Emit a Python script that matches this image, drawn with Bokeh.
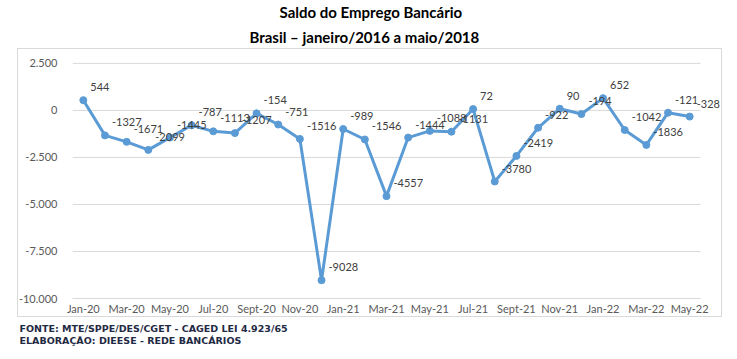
from bokeh.plotting import figure
from bokeh.models import ColumnDataSource, LabelSet, Title, FixedTicker
from bokeh.core.properties import value
from bokeh.embed import file_html
from bokeh.resources import INLINE

# ---- data ----
months = ["Jan-20", "Feb-20", "Mar-20", "Apr-20", "May-20", "Jun-20", "Jul-20", "Aug-20",
          "Sep-20", "Oct-20", "Nov-20", "Dec-20", "Jan-21", "Feb-21", "Mar-21", "Apr-21",
          "May-21", "Jun-21", "Jul-21", "Aug-21", "Sep-21", "Oct-21", "Nov-21", "Dec-21",
          "Jan-22", "Feb-22", "Mar-22", "Apr-22", "May-22"]
saldo = [544, -1327, -1671, -2099, -1445, -787, -1113, -1207, -154, -751, -1516, -9028,
         -989, -1546, -4557, -1444, -1088, -1131, 72, -3780, -2419, -922, 90, -194,
         652, -1042, -1836, -121, -328]
x_tick_labels = ["Jan-20", "Mar-20", "May-20", "Jul-20", "Sept-20", "Nov-20", "Jan-21",
                 "Mar-21", "May-21", "Jul-21", "Sept-21", "Nov-21", "Jan-22", "Mar-22", "May-22"]
y_ticks = [2500, 0, -2500, -5000, -7500, -10000]
y_tick_labels = ["2.500", "0", "-2.500", "-5.000", "-7.500", "-10.000"]

title1 = "Saldo do Emprego Bancário"
title2 = "Brasil – janeiro/2016 a maio/2018"
foot1 = "FONTE: MTE/SPPE/DES/CGET - CAGED LEI 4.923/65"
foot2 = "ELABORAÇÃO: DIEESE - REDE BANCÁRIOS"

FONT = "Lato"
BLUE = "#5B9BD5"

# ---- layout geometry (pixels) ----
W, H = 737, 359
AREA_L, AREA_R = 72, 700      # plotting area (gridlines) left/right
AREA_T, AREA_B = 61, 298      # top (2.500) / bottom (-10.000) gridlines
FRAME_T, FRAME_R = 48, 720    # frame extends to the chart box so labels are not clipped

n = len(months)
px_per_cat = (AREA_R - AREA_L) / n
px_per_unit = (AREA_B - AREA_T) / (y_ticks[0] - y_ticks[-1])
x_end = n - 0.5 + (FRAME_R - AREA_R) / px_per_cat
y_end = y_ticks[0] + (AREA_T - FRAME_T) / px_per_unit

idx = list(range(n))
src = ColumnDataSource(dict(x=idx, y=saldo, lab=[str(v) for v in saldo]))

border_css = """
:host::after {
  content: "";
  position: absolute;
  left: 17px; top: 48px; width: 703px; height: 267px;
  border: 1px solid #d9d9d9;
  pointer-events: none;
}
:host { position: relative; }
"""

p = figure(width=W, height=H, output_backend="svg", toolbar_location=None,
           x_range=(-0.5, x_end), y_range=(y_ticks[-1], y_end),
           min_border_left=AREA_L, min_border_right=W - FRAME_R,
           min_border_top=FRAME_T, min_border_bottom=H - AREA_B,
           stylesheets=[border_css])
p.outline_line_color = None
p.background_fill_color = "white"
p.border_fill_color = "white"

# titles: the plot's own title sits outermost, added titles sit nearer the frame
p.title.text = title1
p.title.align = "left"
p.title.vertical_align = "middle"
p.title.offset = 207
p.title.standoff = 3
p.title.text_font = FONT
p.title.text_font_size = "15px"
p.title.text_font_style = "bold"
p.title.text_color = "#000000"
p.add_layout(Title(text=title2, align="left", vertical_align="middle", offset=177, standoff=7,
                   text_font=FONT, text_font_size="15px", text_font_style="bold",
                   text_color="#000000"),
             "above")

# axes
p.yaxis.ticker = FixedTicker(ticks=y_ticks)
p.yaxis.major_label_overrides = {t: l for t, l in zip(y_ticks, y_tick_labels)}
p.yaxis.axis_line_color = None
p.yaxis.major_tick_line_color = None
p.yaxis.minor_tick_line_color = None
p.yaxis.major_tick_in = 0
p.yaxis.major_tick_out = 0
p.yaxis.minor_tick_in = 0
p.yaxis.minor_tick_out = 0
p.yaxis.major_label_standoff = 15
p.yaxis.major_label_text_font = FONT
p.yaxis.major_label_text_font_size = "11px"
p.yaxis.major_label_text_color = "#595959"

xt = idx[::2]
p.xaxis.ticker = FixedTicker(ticks=xt)
p.xaxis.major_label_overrides = {t: l for t, l in zip(xt, x_tick_labels)}
p.xaxis.bounds = (-0.5, n - 0.5)
p.xaxis.axis_line_color = "#d9d9d9"
p.xaxis.major_tick_line_color = None
p.xaxis.minor_tick_line_color = None
p.xaxis.major_tick_in = 0
p.xaxis.major_tick_out = 0
p.xaxis.minor_tick_in = 0
p.xaxis.minor_tick_out = 0
p.xaxis.major_label_standoff = 3
p.xaxis.major_label_text_font = FONT
p.xaxis.major_label_text_font_size = "11px"
p.xaxis.major_label_text_color = "#595959"

# horizontal gridlines limited to the plotting area
p.xgrid.visible = False
p.ygrid.visible = False
p.segment(x0=[-0.5] * len(y_ticks), x1=[n - 0.5] * len(y_ticks), y0=y_ticks, y1=y_ticks,
          line_color="#d9d9d9", line_width=1)

# footer (two lines in one title)
p.add_layout(Title(text=foot1 + "\n" + foot2, align="left", offset=-53, standoff=7,
                   text_font="DejaVu Sans", text_font_size="9.5px", text_line_height=1.05,
                   text_font_style="bold", text_color="#1f2a44"), "below")

# series
p.line("x", "y", source=src, line_color=BLUE, line_width=3)
p.scatter("x", "y", source=src, size=7, fill_color=BLUE, line_color=BLUE)

labels = LabelSet(x="x", y="y", text="lab", source=src, x_offset=7, y_offset=13,
                  text_align="left", text_baseline="middle", text_font=value(FONT),
                  text_font_size=value("11px"), text_color="#404040")
p.add_layout(labels)

open("out.html", "w").write(file_html(p, INLINE))
